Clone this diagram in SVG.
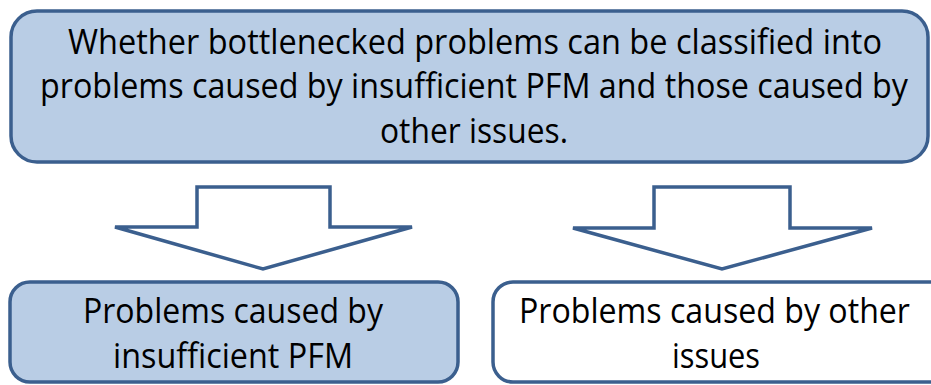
<svg xmlns="http://www.w3.org/2000/svg" width="931" height="385" viewBox="0 0 931 385">
  <style>
    .box { stroke: #3b5f8e; stroke-width: 3.5; }
    .filled { fill: #b9cde5; }
    .plain { fill: #ffffff; }
    .arrow { fill: #ffffff; stroke: #3b5f8e; stroke-width: 3.5; stroke-linejoin: miter; }
    .label { font-family: "Open Sans", "Noto Sans", "Liberation Sans", sans-serif; font-size: 34px; fill: #000000; }
  </style>
  <rect width="931" height="385" fill="#ffffff"/>

  <g id="question">
    <rect class="box filled" x="11" y="11" width="917" height="151" rx="26" ry="26"/>
    <text class="label" x="68" y="54" textLength="814" lengthAdjust="spacingAndGlyphs">Whether bottlenecked problems can be classified into</text>
    <text class="label" x="40" y="98" textLength="868" lengthAdjust="spacingAndGlyphs">problems caused by insufficient PFM and those caused by</text>
    <text class="label" x="380" y="143" textLength="188" lengthAdjust="spacingAndGlyphs">other issues.</text>
  </g>

  <g id="connectors">
    <polygon class="arrow" points="197,187 330,187 330,227 412,227 263,269 115,227 197,227"/>
    <polygon class="arrow" points="654,187 790,187 790,228 872,228 722,269 573,228 654,228"/>
  </g>

  <g id="pfm">
    <rect class="box filled" x="10" y="282" width="448" height="100" rx="20" ry="20"/>
    <text class="label" x="83" y="323" textLength="300" lengthAdjust="spacingAndGlyphs">Problems caused by</text>
    <text class="label" x="113" y="368" textLength="240" lengthAdjust="spacingAndGlyphs">insufficient PFM</text>
  </g>

  <g id="other">
    <rect class="box plain" x="493" y="282" width="460" height="100" rx="20" ry="20"/>
    <text class="label" x="519" y="323" textLength="391" lengthAdjust="spacingAndGlyphs">Problems caused by other</text>
    <text class="label" x="672" y="368" textLength="88" lengthAdjust="spacingAndGlyphs">issues</text>
  </g>
</svg>
